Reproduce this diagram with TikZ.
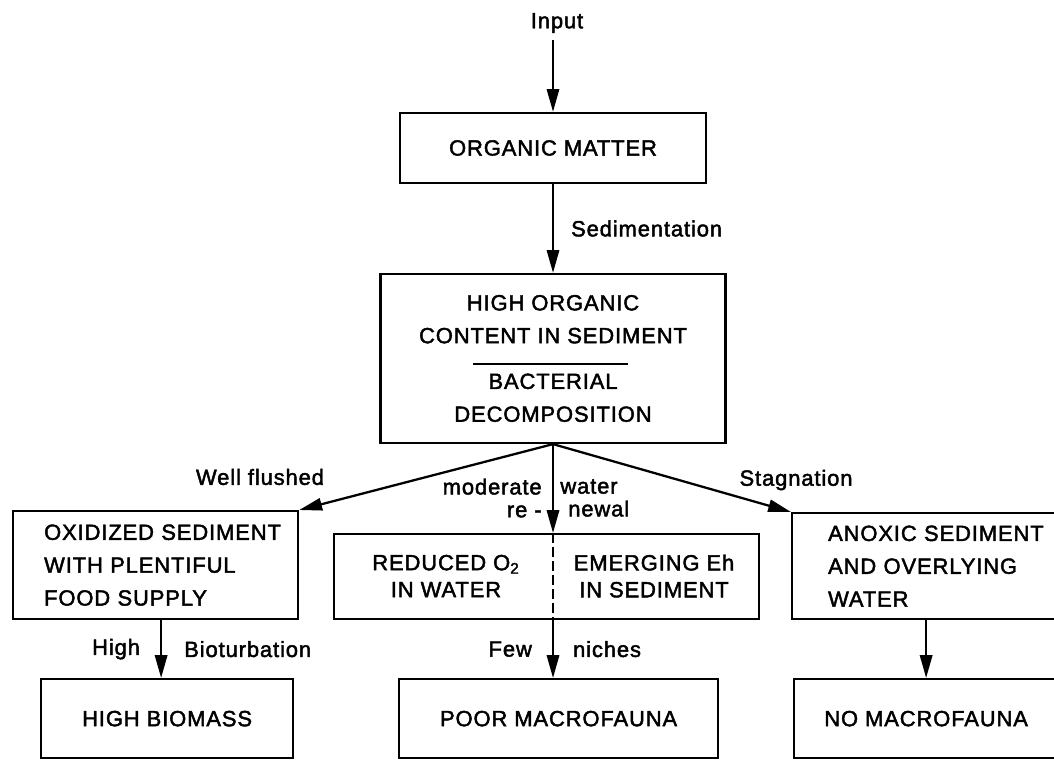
\documentclass[tikz,border=0pt]{standalone}
\usepackage{fontspec}
\setmainfont{Liberation Sans}[LetterSpace=4,FakeBold=2]
\usetikzlibrary{arrows.meta}

\begin{document}
\begin{tikzpicture}[x=0.02cm,y=-0.02cm,font=\fontsize{12.5}{18.7}\selectfont,
  box/.style={draw,line width=1.3pt,inner sep=0pt,align=center},
  lbl/.style={inner sep=0pt},
  arr/.style={-{Triangle[length=13pt,width=7pt]},line width=1.3pt}]
\useasboundingbox (0,0) rectangle (1054,760);

\node[lbl] (input) at (557,23) {Input};
\node[box,minimum width=6.12cm,minimum height=1.4cm] (om) at (553,148) {ORGANIC MATTER};
\node[box,minimum width=6.9cm,minimum height=3.38cm] (big) at (553,358.5)
  {HIGH ORGANIC\\CONTENT IN SEDIMENT\\[7.3pt]BACTERIAL\\DECOMPOSITION};
\coordinate (fan) at (big.south);

\node[box,anchor=north west,minimum width=5.7cm,minimum height=2.16cm,
  inner xsep=0.62cm,text width=4.46cm,align=left] (oxid) at (12,510)
  {\mbox{OXIDIZED SEDIMENT}\\WITH PLENTIFUL\\FOOD SUPPLY};
\node[box,anchor=north west,minimum width=8.5cm,minimum height=1.7cm] (redu) at (333,533) {};
\node[lbl,align=center,font=\fontsize{12.5}{15.3}\selectfont] (o2) at (446,576)
  {REDUCED O\textsubscript{2}\\IN WATER};
\node[lbl,align=center,font=\fontsize{12.5}{15.3}\selectfont] (eh) at (654,576)
  {EMERGING Eh\\IN SEDIMENT};
\node[box,anchor=north west,minimum height=2.12cm,
  inner xsep=0.72cm,text width=4.4cm,align=left] (anox) at (791,512)
  {ANOXIC SEDIMENT\\AND OVERLYING\\WATER};

\node[box,anchor=north west,minimum width=5.04cm,minimum height=1.58cm] (hibio) at (40,678) {HIGH BIOMASS};
\node[box,anchor=north west,minimum width=6.38cm,minimum height=1.58cm] (poor) at (398,678) {POOR MACROFAUNA};
\node[box,anchor=north west,minimum width=5.28cm,minimum height=1.58cm] (nomac) at (793,678) {NO MACROFAUNA};

\draw[line width=1.3pt] ([xshift=-1.6cm,yshift=-0.11cm]big.center) -- ([xshift=1.5cm,yshift=-0.11cm]big.center);

\draw[arr,shorten <=4pt] (input.south -| om.north) -- (om.north);
\draw[arr] (om) -- node[lbl,right=0.34cm] {Sedimentation} (big);

\draw[arr] (fan) -- (oxid.north east);
\draw[arr] (fan) -- (fan |- redu.north);
\draw[arr] (fan) -- (anox.north west);
\node[lbl] (wf) at (260,477) {Well flushed};
\node[lbl] (stag) at (796,480) {Stagnation};
\node[lbl,anchor=east,align=right,font=\fontsize{12.5}{13}\selectfont] (mod) at (542,498) {moderate\\re -\hspace{2pt}};
\node[lbl,anchor=west,align=left,font=\fontsize{12.5}{13}\selectfont] (wat) at (560,498) {water\\\hspace{4.5pt}newal};

\draw[dash pattern=on 5.5pt off 2.5pt,line width=1.3pt] (fan |- redu.north) -- (fan |- redu.south);

\coordinate (bt) at ([xshift=0.11cm]oxid.south);
\draw[arr] (bt) -- node[lbl,left=0.4cm] {High} node[lbl,right=0.44cm] {Bioturbation} (bt |- hibio.north);
\draw[arr] (fan |- redu.south) -- node[lbl,left=0.4cm] {Few} node[lbl,right=0.38cm] {niches} (fan |- poor.north);
\draw[arr] (anox.south -| nomac.north) -- (nomac.north);
\end{tikzpicture}
\end{document}
